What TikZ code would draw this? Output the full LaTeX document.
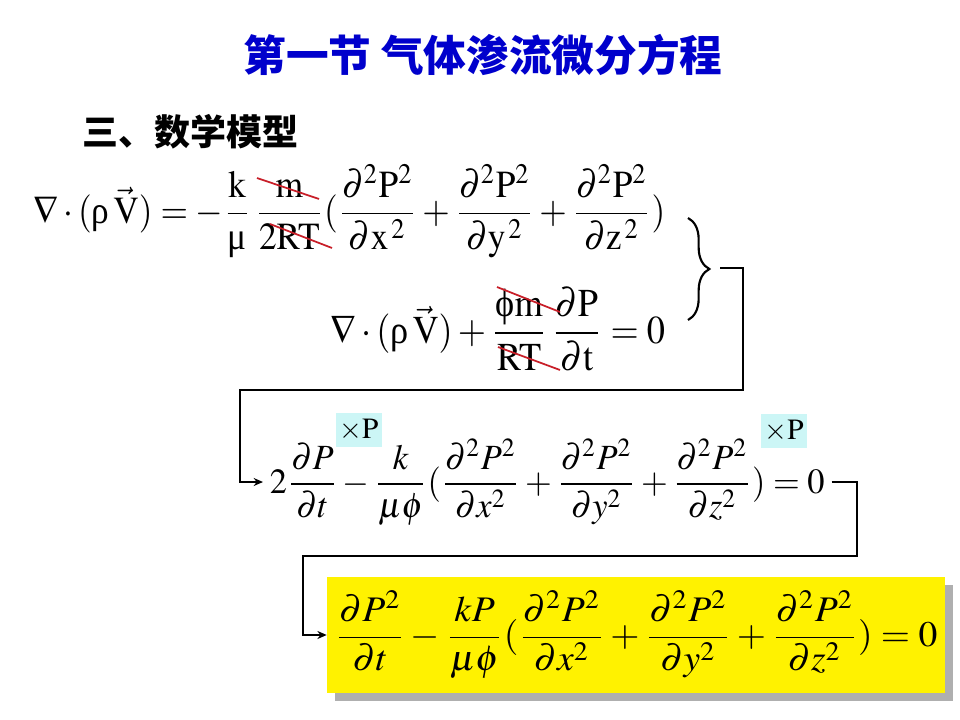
\documentclass[tikz,border=0pt]{standalone}
\usepackage{mathptmx}
\usepackage[no-math]{fontspec}
\setmainfont{Liberation Serif}
\newfontfamily\cjk{Noto Sans CJK SC}
\usetikzlibrary{decorations.pathreplacing,arrows.meta,calc,backgrounds}
\definecolor{titleblue}{RGB}{0,0,204}
\definecolor{strikered}{RGB}{200,30,40}
\definecolor{hlcyan}{RGB}{204,246,246}
\definecolor{shadowgray}{RGB}{175,175,175}
\newcommand\rmg[1]{\mbox{#1}}
\begin{document}
\begin{tikzpicture}[x=0.75pt,y=-0.75pt,
  conn/.style={line width=1.5pt,-{Stealth[length=7pt,width=6pt]}},
  plainline/.style={line width=1.6pt},
  strikeline/.style={strikered,line width=1.3pt},
  hlbox/.style={fill=hlcyan,inner sep=0pt,minimum width=35pt,minimum height=25pt,font=\fontsize{22}{24}\selectfont},
  eqnode/.style={inner sep=0pt}]
\begin{scope}[on background layer]
\fill[white] (0,0) rectangle (960,720);
\end{scope}
\useasboundingbox (0,0) rectangle (960,720);

\node[text=titleblue,font=\cjk\bfseries\fontsize{32}{38}\selectfont] (title) at (483,55) {第一节 气体渗流微分方程};
\node[anchor=west,font=\cjk\bfseries\fontsize{27}{32}\selectfont] (sub) at (78,132) {三、数学模型};

\node[eqnode,anchor=west] (eq1) at (33,211) {\resizebox*{474pt}{70pt}{$\displaystyle \nabla\cdot(\rmg{ρ}\,\vec{\mathrm{V}}) = -\frac{\mathrm{k}}{\rmg{μ}}\,\frac{\mathrm{m}}{2\mathrm{RT}}(\frac{\partial^2\mathrm{P}^2}{\partial\mathrm{x}^{\,2}}+\frac{\partial^2\mathrm{P}^2}{\partial\mathrm{y}^{\,2}}+\frac{\partial^2\mathrm{P}^2}{\partial\mathrm{z}^{\,2}})$}};

\node[eqnode,anchor=west] (eq2) at (330,329) {\resizebox*{251pt}{63pt}{$\displaystyle \nabla\cdot(\rmg{ρ}\,\vec{\mathrm{V}}) + \frac{\rmg{ϕ}\mathrm{m}}{\mathrm{RT}}\,\frac{\partial\mathrm{P}}{\partial\mathrm{t}} = 0$}};

\node[eqnode,anchor=west,inner xsep=5pt] (eq3) at (263,482) {\resizebox*{416pt}{65pt}{$\displaystyle 2\frac{\partial P}{\partial t}-\frac{k}{\mu\phi}(\frac{\partial^2P^2}{\partial x^2}+\frac{\partial^2P^2}{\partial y^2}+\frac{\partial^2P^2}{\partial z^2})=0$}};

\begin{scope}[on background layer]
\fill[shadowgray] (335,585) rectangle (953,701);
\end{scope}
\node[fill=yellow,inner sep=0pt,minimum width=463.5pt,minimum height=87pt] (eq4) at (636,635) {\resizebox*{452pt}{66pt}{$\displaystyle\frac{\partial P^2}{\partial t}-\frac{kP}{\mu\phi}(\frac{\partial^2P^2}{\partial x^2}+\frac{\partial^2P^2}{\partial y^2}+\frac{\partial^2P^2}{\partial z^2})=0$}};

\node[hlbox] (h1) at (359,430) {$\times\mathrm{P}$};
\node[hlbox] (h2) at (784,431) {$\times\mathrm{P}$};

\draw[strikeline] (257,178) -- (319,199);
\draw[strikeline] (270,224) -- (332,248);
\draw[strikeline] (497,287) -- (560,312);
\draw[strikeline] (498,347) -- (560,370);

\draw[plainline,decorate,decoration={brace,amplitude=16pt}] (688,218) -- (688,320);
\coordinate (bt) at (720,268);
\coordinate (k1) at (743,390);
\coordinate (k2) at (240,390);
\draw[conn] (bt) -| (k1) -- (k2) |- (eq3.west);

\coordinate (k3) at (857,556);
\coordinate (k4) at (303,556);
\draw[conn] (eq3.east) -| (k3) -- (k4) |- (eq4.west);
\end{tikzpicture}
\end{document}
